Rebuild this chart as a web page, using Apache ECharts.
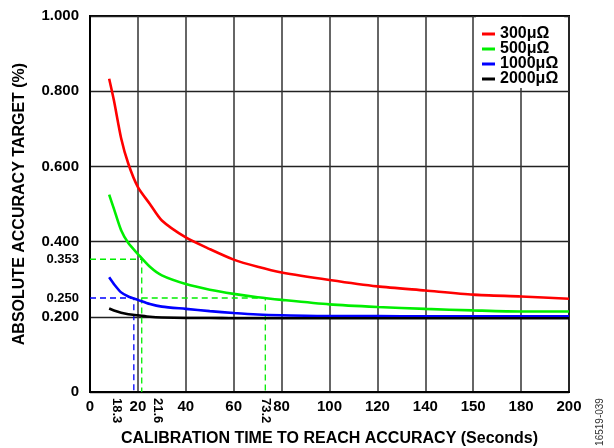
<!DOCTYPE html>
<html>
<head>
<meta charset="utf-8">
<script src="https://cdn.jsdelivr.net/npm/echarts@6/dist/echarts.min.js"></script>
<style>
html,body{margin:0;padding:0;background:#fff;}
#chart{width:614px;height:448px;}
</style>
</head>
<body>
<div id="chart"></div>
<script>
// ---- data ----
var seriesNames = ['300μΩ', '500μΩ', '1000μΩ', '2000μΩ'];
var seriesColors = ['#ff0000', '#00ee00', '#0000ff', '#000000'];
var times = [8, 10, 13, 16, 20, 25, 30, 40, 50, 60, 70, 80, 100, 120, 140, 160, 180, 200];
var acc300 = [0.833, 0.775, 0.675, 0.607, 0.545, 0.500, 0.456, 0.411, 0.380, 0.352, 0.333, 0.318, 0.298, 0.281, 0.270, 0.259, 0.254, 0.248];
var acc500 = [0.525, 0.487, 0.430, 0.396, 0.367, 0.333, 0.310, 0.287, 0.272, 0.261, 0.252, 0.245, 0.233, 0.226, 0.221, 0.217, 0.214, 0.214];
var acc1000 = [0.305, 0.287, 0.265, 0.254, 0.245, 0.234, 0.227, 0.221, 0.215, 0.210, 0.206, 0.204, 0.202, 0.202, 0.201, 0.201, 0.201, 0.201];
var acc2000 = [0.222, 0.217, 0.211, 0.207, 0.204, 0.200, 0.198, 0.197, 0.197, 0.196, 0.196, 0.196, 0.196, 0.196, 0.196, 0.196, 0.196, 0.196];
var xTickLabels = ['0', '20', '40', '60', '80', '100', '120', '140', '150', '180', '200'];
var yTickLabels = ['0', '0.200', '0.400', '0.600', '0.800', '1.000'];
// reference guides: [time, accuracy, start time of horizontal segment]
var guideBlue = [18.3, 0.250, 0];
var guideGreenA = [21.6, 0.353, 0];
var guideGreenB = [73.2, 0.250, 21.6];
var extraXLabels = [18.3, 21.6, 73.2];
var extraYLabels = [0.250, 0.353];
var figureId = '16519-039';

// ---- build ----
var FONT = 'Arial, "Liberation Sans", Helvetica, sans-serif';
var accs = [acc300, acc500, acc1000, acc2000];
function pairs(xs, ys) { return xs.map(function (x, i) { return [x, ys[i]]; }); }
function guidePath(g) { return [[g[2], g[1]], [g[0], g[1]], [g[0], 0]]; }

var series = accs.map(function (a, i) {
  return {
    name: seriesNames[i], type: 'line', data: pairs(times, a),
    showSymbol: false, smooth: 0.25,
    lineStyle: { color: seriesColors[i], width: 2.6 },
    itemStyle: { color: seriesColors[i] }, z: 5
  };
});
[[guideBlue, '#0000ff'], [guideGreenA, '#00ee00'], [guideGreenB, '#00ee00']].forEach(function (g) {
  series.push({
    type: 'line', data: guidePath(g[0]), showSymbol: false, silent: true,
    lineStyle: { color: g[1], width: 1.3, type: [6, 4] }, z: 4
  });
});

var chart = echarts.init(document.getElementById('chart'), null, { renderer: 'canvas' });
chart.setOption({
  animation: false,
  backgroundColor: '#fff',
  textStyle: { fontFamily: FONT },
  grid: { left: 90, right: 45, top: 16, bottom: 56, show: true, borderColor: '#000', borderWidth: 2,
    backgroundColor: 'transparent', containLabel: false, outerBoundsMode: 'none' },
  legend: {
    data: seriesNames, orient: 'vertical', left: 476, top: 17,
    backgroundColor: '#fff', padding: [9, 6, 1, 6], itemGap: -1,
    icon: 'rect', itemWidth: 13, itemHeight: 3,
    textStyle: { fontFamily: FONT, fontWeight: 'bold', fontSize: 16, color: '#000', lineHeight: 14 }
  },
  xAxis: [{
    type: 'value', min: 0, max: 200, interval: 20, position: 'bottom',
    name: 'CALIBRATION TIME TO REACH ACCURACY (Seconds)', nameLocation: 'middle', nameGap: 39,
    nameTextStyle: { fontFamily: FONT, fontWeight: 'bold', fontSize: 16, color: '#000' },
    axisLine: { show: true, lineStyle: { color: '#000', width: 2 } },
    axisTick: { show: false },
    axisLabel: { fontFamily: FONT, fontWeight: 'bold', fontSize: 15, color: '#000', margin: 7,
      formatter: function (v) { return xTickLabels[Math.round(v / 20)]; } },
    splitLine: { show: true, lineStyle: { color: '#333', width: 1.5 } }
  }, {
    type: 'value', min: 0, max: 200, position: 'bottom',
    axisLine: { show: false }, axisTick: { show: false }, splitLine: { show: false },
    axisLabel: {
      customValues: extraXLabels, rotate: -90, margin: 6,
      fontFamily: FONT, fontWeight: 'bold', fontSize: 13, color: '#000',
      formatter: function (v) {
        var s = v.toFixed(1);
        if (Math.abs(v - extraXLabels[0]) < 0.01) return '{l|' + s + '}';
        if (Math.abs(v - extraXLabels[1]) < 0.01) return '{r|' + s + '}';
        return '{c|' + s + '}';
      },
      rich: {
        l: { fontFamily: FONT, fontWeight: 'bold', fontSize: 13, color: '#000', padding: [35, 0, 0, 0] },
        r: { fontFamily: FONT, fontWeight: 'bold', fontSize: 13, color: '#000', padding: [0, 0, 31, 0] },
        c: { fontFamily: FONT, fontWeight: 'bold', fontSize: 13, color: '#000' }
      }
    }
  }],
  yAxis: [{
    type: 'value', min: 0, max: 1, interval: 0.2, position: 'left',
    name: 'ABSOLUTE ACCURACY TARGET (%)', nameLocation: 'middle', nameGap: 62,
    nameTextStyle: { fontFamily: FONT, fontWeight: 'bold', fontSize: 16, color: '#000' },
    axisLine: { show: true, lineStyle: { color: '#000', width: 2 } },
    axisTick: { show: false },
    axisLabel: { fontFamily: FONT, fontWeight: 'bold', fontSize: 15, color: '#000', margin: 11,
      formatter: function (v) { return yTickLabels[Math.round(v / 0.2)]; } },
    splitLine: { show: true, lineStyle: { color: '#222', width: 1.3 } }
  }, {
    type: 'value', min: 0, max: 1, position: 'left',
    axisLine: { show: false }, axisTick: { show: false }, splitLine: { show: false },
    axisLabel: { customValues: extraYLabels, margin: 11,
      fontFamily: FONT, fontWeight: 'bold', fontSize: 13, color: '#000',
      formatter: function (v) { return v.toFixed(3); } }
  }],
  graphic: [{
    type: 'text', x: 600, y: 422, rotation: Math.PI / 2,
    style: { text: figureId, fontFamily: FONT, fontSize: 10, fill: '#333', align: 'center', verticalAlign: 'middle' }
  }],
  series: series
});
</script>
</body>
</html>
